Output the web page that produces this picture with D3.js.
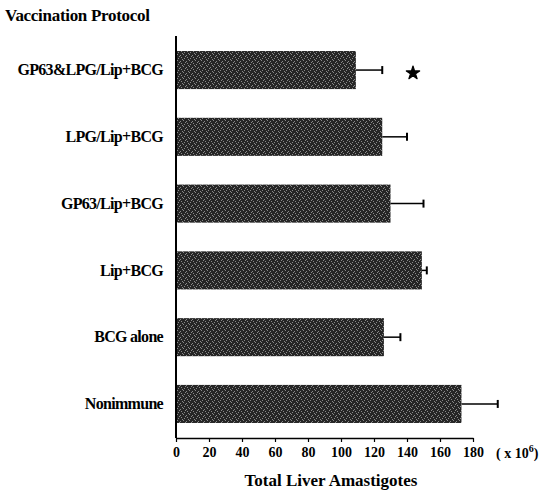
<!DOCTYPE html>
<html>
<head>
<meta charset="utf-8">
<script src="https://cdn.jsdelivr.net/npm/d3@7"></script>
<style>
  body { margin: 0; background: #fff; }
  text { font-family: "Liberation Serif", "Times New Roman", serif; font-weight: bold; fill: #000; }
</style>
</head>
<body>
<div id="chart"></div>
<script>
// groups, top to bottom
const protocols = ["GP63&LPG/Lip+BCG", "LPG/Lip+BCG", "GP63/Lip+BCG", "Lip+BCG", "BCG alone", "Nonimmune"];
const means = [109, 125, 130, 149, 126, 173];
const errs = [16, 15, 20, 3, 10, 22];
const signif = [true, false, false, false, false, false];
const xTicks = [0, 20, 40, 60, 80, 100, 120, 140, 160, 180];

const width = 547,
  height = 491;

const svg = d3.select("#chart").append("svg")
  .attr("width", width)
  .attr("height", height);

// speckled fill for the bars
const defs = svg.append("defs");
const pat = defs.append("pattern")
  .attr("id", "speckle")
  .attr("patternUnits", "userSpaceOnUse")
  .attr("width", 6)
  .attr("height", 6);
pat.append("rect").attr("width", 6).attr("height", 6).attr("fill", "#262626");
[[0, 1], [3, 0], [4, 4], [1, 3], [5, 2], [2, 5]].forEach(p => {
  pat.append("rect").attr("x", p[0]).attr("y", p[1]).attr("width", 1).attr("height", 1).attr("fill", "#8a8a8a");
});

const x = d3.scaleLinear()
  .domain([0, 180])
  .range([176, 473]);

const y = d3.scaleBand()
  .domain(protocols)
  .range([36, 438])
  .paddingInner(0.43)
  .paddingOuter(0.225);

// bars
svg.append("g")
  .selectAll("rect")
  .data(protocols)
  .join("rect")
  .attr("x", x(0))
  .attr("y", d => y(d))
  .attr("width", (d, i) => x(means[i]) - x(0))
  .attr("height", y.bandwidth())
  .attr("fill", "url(#speckle)");

// error bars
const eb = svg.append("g")
  .attr("stroke", "#000")
  .attr("stroke-width", 1.5);
eb.selectAll("line.h")
  .data(protocols)
  .join("line")
  .attr("class", "h")
  .attr("x1", (d, i) => x(means[i]))
  .attr("x2", (d, i) => x(means[i] + errs[i]))
  .attr("y1", d => y(d) + y.bandwidth() / 2)
  .attr("y2", d => y(d) + y.bandwidth() / 2);
eb.selectAll("line.cap")
  .data(protocols)
  .join("line")
  .attr("class", "cap")
  .attr("stroke-width", 2)
  .attr("x1", (d, i) => x(means[i] + errs[i]))
  .attr("x2", (d, i) => x(means[i] + errs[i]))
  .attr("y1", d => y(d) + y.bandwidth() / 2 - 4)
  .attr("y2", d => y(d) + y.bandwidth() / 2 + 4);

// significance star
svg.append("g")
  .selectAll("path")
  .data(protocols.filter((d, i) => signif[i]))
  .join("path")
  .attr("d", d3.symbol(d3.symbolStar, 55))
  .attr("transform", d => `translate(413,${y(d) + y.bandwidth() / 2 + 3})`)
  .attr("fill", "#000")
  .attr("stroke", "#000")
  .attr("stroke-width", 1.2)
  .attr("stroke-linejoin", "round");

// x axis
const xAxis = svg.append("g")
  .attr("transform", "translate(0,438)")
  .call(d3.axisBottom(x).tickValues(xTicks).tickSize(4).tickSizeOuter(0));
xAxis.select(".domain").attr("stroke-width", 1.5).attr("stroke", "#000");
xAxis.selectAll(".tick line").attr("stroke", "#000").attr("stroke-width", 1.2);
xAxis.selectAll(".tick text")
  .attr("y", 9)
  .style("font-family", "'Liberation Serif', serif")
  .style("font-weight", "bold")
  .style("font-size", "14px");

// y axis
const yAxis = svg.append("g")
  .attr("transform", "translate(176,0)")
  .call(d3.axisLeft(y).tickSize(0).tickSizeOuter(0).tickPadding(13));
yAxis.select(".domain").attr("stroke-width", 2).attr("stroke", "#000")
  .attr("d", "M0,36V438");
yAxis.selectAll(".tick text")
  .style("font-family", "'Liberation Serif', serif")
  .style("font-weight", "bold")
  .style("font-size", "16px")
  .style("letter-spacing", "-0.7px");

// titles
svg.append("text")
  .attr("x", 5)
  .attr("y", 21)
  .style("font-size", "17px")
  .style("letter-spacing", "-0.3px")
  .text("Vaccination Protocol");

const unit = svg.append("text")
  .attr("x", 496)
  .attr("y", 458)
  .style("font-size", "14px");
unit.append("tspan").text("( x 10");
unit.append("tspan").attr("dy", -6).style("font-size", "10px").text("6");
unit.append("tspan").attr("dy", 6).text(")");

svg.append("text")
  .attr("x", 331)
  .attr("y", 486)
  .attr("text-anchor", "middle")
  .style("font-size", "17px")
  .text("Total Liver Amastigotes");
</script>
</body>
</html>
